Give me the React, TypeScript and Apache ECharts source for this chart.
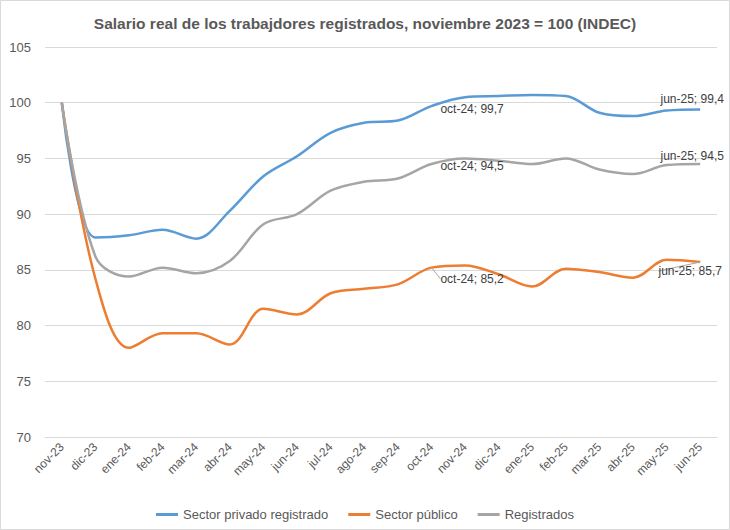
import React, { useEffect, useRef } from "react";
import * as echarts from "echarts";

const categories = [
  "nov-23", "dic-23", "ene-24", "feb-24", "mar-24", "abr-24", "may-24", "jun-24",
  "jul-24", "ago-24", "sep-24", "oct-24", "nov-24", "dic-24", "ene-25", "feb-25",
  "mar-25", "abr-25", "may-25", "jun-25",
];
const privado = [100, 87.9, 88.1, 88.6, 87.8, 90.3, 93.4, 95.2, 97.3, 98.2, 98.4, 99.7, 100.5, 100.6, 100.7, 100.6, 99.1, 98.8, 99.3, 99.4];
const publico = [100, 84.2, 78.0, 79.3, 79.3, 78.3, 81.5, 81.0, 82.9, 83.3, 83.7, 85.2, 85.4, 84.6, 83.5, 85.1, 84.8, 84.3, 85.9, 85.7];
const registrados = [100, 86.2, 84.4, 85.2, 84.7, 85.8, 89.1, 90.0, 92.1, 92.9, 93.2, 94.5, 95.0, 94.8, 94.5, 95.0, 94.0, 93.6, 94.4, 94.5];
const seriesNames = ["Sector privado registrado", "Sector público", "Registrados"];
const colors = ["#5b9bd5", "#ed7d31", "#a5a5a5"];
const yTicks = { min: 70, max: 105, interval: 5 };
const labeledOct = 11;
const labeledJun = 19;

const FONT = "'Liberation Sans', Arial, sans-serif";
const TEXT = "#595959";

const fmt = (p: any) => `${p.name}; ${String(p.value).replace(".", ",")}`;

function buildData(values: number[], octLabel: any, junLabel: any) {
  return values.map((v, i) => {
    if (i === labeledOct) return { value: v, label: { show: true, ...octLabel } };
    if (i === labeledJun) return { value: v, label: { show: true, ...junLabel } };
    return v;
  });
}

export default function App() {
  const ref = useRef<HTMLDivElement>(null);
  useEffect(() => {
    if (!ref.current) return;
    const chart = echarts.init(ref.current, null, { renderer: "svg" });
    const labelBase = {
      formatter: fmt,
      color: "#404040",
      fontSize: 12,
      fontFamily: FONT,
    };
    const option: any = {
      animation: false,
      backgroundColor: "#ffffff",
      title: {
        text: "Salario real de los trabajdores registrados, noviembre 2023 = 100 (INDEC)",
        left: "center",
        top: 10,
        textStyle: { fontSize: 15.5, fontWeight: "bold", color: TEXT, fontFamily: FONT },
      },
      graphic: [
        {
          type: "rect",
          shape: { x: 0.5, y: 0.5, width: 729, height: 529 },
          style: { fill: "none", stroke: "#d9d9d9", lineWidth: 1 },
          silent: true,
        },
      ],
      legend: {
        data: seriesNames,
        top: 503,
        left: "center",
        icon: "rect",
        itemWidth: 22,
        itemHeight: 3,
        itemGap: 20,
        textStyle: { fontSize: 13, color: TEXT, fontFamily: FONT },
      },
      grid: { left: 45, right: 13, top: 47, bottom: 93, containLabel: false },
      xAxis: {
        type: "category",
        data: categories,
        boundaryGap: true,
        axisLine: { show: true, lineStyle: { color: "#d9d9d9" } },
        axisTick: { show: false },
        axisLabel: {
          rotate: 45,
          interval: 0,
          margin: 8,
          fontSize: 12,
          color: TEXT,
          fontFamily: FONT,
        },
      },
      yAxis: {
        type: "value",
        min: yTicks.min,
        max: yTicks.max,
        interval: yTicks.interval,
        axisLine: { show: false },
        axisTick: { show: false },
        splitLine: { lineStyle: { color: "#d9d9d9" } },
        axisLabel: { fontSize: 13, color: TEXT, fontFamily: FONT, margin: 14 },
      },
      series: [
        {
          name: seriesNames[0],
          type: "line",
          smooth: 0.35,
          symbol: "circle",
          symbolSize: 0,
          showSymbol: true,
          lineStyle: { width: 2.5, color: colors[0] },
          itemStyle: { color: colors[0] },
          label: labelBase,
          data: buildData(
            privado,
            { position: "right", distance: 9, offset: [0, 3] },
            { position: "top", distance: 4, offset: [-8, 0] }
          ),
        },
        {
          name: seriesNames[1],
          type: "line",
          smooth: 0.35,
          symbol: "circle",
          symbolSize: 0,
          showSymbol: true,
          lineStyle: { width: 2.5, color: colors[1] },
          itemStyle: { color: colors[1] },
          label: labelBase,
          labelLine: { show: true, lineStyle: { color: "#a6a6a6", width: 1 } },
          labelLayout: (p: any) =>
            p.dataIndex === labeledOct ? { dy: 11 } : p.dataIndex === labeledJun ? { dx: -10 } : {},
          data: buildData(
            publico,
            { position: "right", distance: 9, offset: [0, 0] },
            { position: "bottom", distance: 3, offset: [0, 0] }
          ),
        },
        {
          name: seriesNames[2],
          type: "line",
          smooth: 0.35,
          symbol: "circle",
          symbolSize: 0,
          showSymbol: true,
          lineStyle: { width: 2.5, color: colors[2] },
          itemStyle: { color: colors[2] },
          label: labelBase,
          data: buildData(
            registrados,
            { position: "right", distance: 9, offset: [0, 2] },
            { position: "top", distance: 2, offset: [-8, 0] }
          ),
        },
      ],
    };
    chart.setOption(option);
    return () => chart.dispose();
  }, []);
  return (
    <div style={{ position: "fixed", left: 0, top: 0, width: 730, height: 530, background: "#fff" }}>
      <div ref={ref} style={{ width: 730, height: 530 }} />
    </div>
  );
}
